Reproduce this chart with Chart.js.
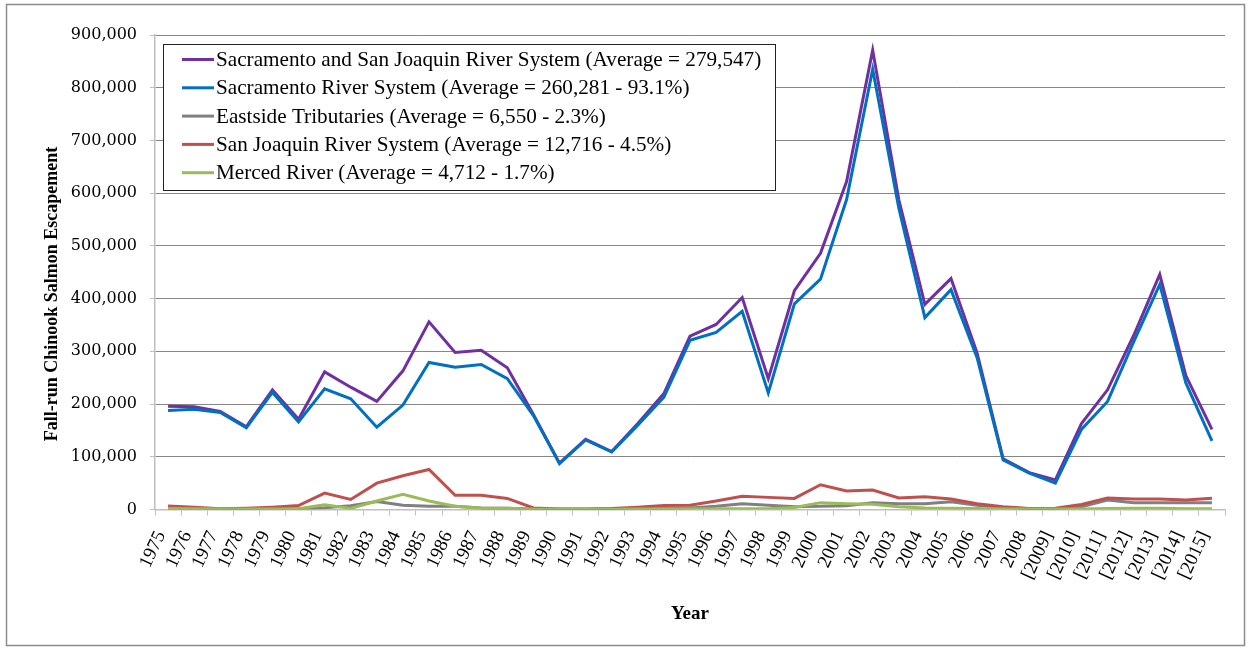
<!DOCTYPE html>
<html>
<head>
<meta charset="utf-8">
<title>Fall-run Chinook Salmon Escapement</title>
<script src="https://cdn.jsdelivr.net/npm/chart.js@4.4.1/dist/chart.umd.min.js"></script>
<style>
  html, body { margin: 0; padding: 0; background: #fff; }
</style>
</head>
<body>
<canvas id="salmon" width="1250" height="648"></canvas>
<script>
// years on the x axis (bracketed years as printed)
const years = ['1975','1976','1977','1978','1979','1980','1981','1982','1983','1984',
  '1985','1986','1987','1988','1989','1990','1991','1992','1993','1994',
  '1995','1996','1997','1998','1999','2000','2001','2002','2003','2004',
  '2005','2006','2007','2008','[2009]','[2010]','[2011]','[2012]','[2013]','[2014]','[2015]'];

// Sacramento and San Joaquin River System
const totalSystem = [196000,195000,186000,157000,227000,171000,261000,232000,205000,263000,
  356000,298000,302000,269000,180000,88000,133000,110000,163000,220000,
  329000,351000,402000,248000,415000,486000,622000,871000,588000,389000,
  438000,297000,96000,70000,56000,163000,227000,330000,446000,254000,152000];

// Sacramento River System
const sacramento = [188000,190000,184000,155000,222000,166000,229000,210000,156000,198000,
  279000,270000,275000,248000,178000,87000,132000,109000,160000,213000,
  321000,336000,376000,221000,390000,437000,588000,835000,572000,364000,
  417000,288000,94000,69000,50000,152000,205000,318000,427000,240000,130000];

// Eastside Tributaries
const eastside = [2000,1500,1000,1000,1500,1500,3500,7000,15000,8000,
  6000,6000,3000,2500,1000,500,500,800,1500,2000,
  3000,6000,11000,8000,5000,6000,7000,13000,11000,11000,
  14500,8000,4000,1300,1000,5000,18000,13000,13000,13000,13000];

// San Joaquin River System
const sanJoaquin = [6500,4500,1500,2500,4500,7500,31000,19000,50000,64000,
  76000,27000,27000,21000,3000,1000,1000,2000,4500,7500,
  8000,16000,25000,23000,21000,47000,35000,37000,22000,24000,
  20000,11000,5000,2000,2500,9500,22000,20000,20000,18000,21500];

// Merced River
const merced = [2000,1500,1000,1000,1000,1500,9000,2000,16000,29000,
  16000,6000,2500,2500,600,400,400,500,800,1000,
  1000,1200,1500,1200,4000,13000,11000,10000,5000,3000,
  2500,2000,1000,800,800,1000,2000,2500,2500,1300,1300];

const yTicks = [0,100000,200000,300000,400000,500000,600000,700000,800000,900000];
const yTitle = 'Fall-run Chinook Salmon Escapement';

Chart.defaults.font.family = "'Liberation Serif', 'Times New Roman', serif";
Chart.defaults.color = '#000';

// white page + grey frame round the whole chart, and the y title
const frame = {
  id: 'frame',
  beforeDraw(chart) {
    const c = chart.ctx;
    c.save();
    c.fillStyle = '#fff';
    c.fillRect(0, 0, chart.width, chart.height);
    c.strokeStyle = '#8c8c8c';
    c.lineWidth = 1.5;
    c.strokeRect(6.5, 4.5, 1238, 641);
    // y axis title, Excel puts it a bit below the middle of the plot
    c.translate(52, 294);
    c.rotate(-Math.PI / 2);
    c.font = "bold 18px 'Liberation Serif', serif";
    c.fillStyle = '#000';
    c.textAlign = 'center';
    c.textBaseline = 'middle';
    c.fillText(yTitle, 0, 0);
    c.restore();
  }
};

// Excel-style legend box sitting inside the plot
const boxLegend = {
  id: 'boxLegend',
  afterDraw(chart) {
    const c = chart.ctx;
    c.save();
    c.fillStyle = '#fff';
    c.fillRect(163, 44, 613, 146);
    c.strokeStyle = '#222';
    c.lineWidth = 1;
    c.strokeRect(163.5, 44.5, 612, 146);
    c.font = "21.2px 'Liberation Serif', serif";
    c.textBaseline = 'middle';
    chart.data.datasets.forEach((ds, i) => {
      const y = 59.5 + i * 28.3;
      c.strokeStyle = ds.borderColor;
      c.lineWidth = 3;
      c.beginPath();
      c.moveTo(182, y);
      c.lineTo(214, y);
      c.stroke();
      c.fillStyle = '#000';
      c.fillText(ds.label, 216, y + 1);
    });
    c.restore();
  }
};

new Chart(document.getElementById('salmon').getContext('2d'), {
  type: 'line',
  data: {
    labels: years,
    datasets: [
      { label: 'Sacramento and San Joaquin River System (Average = 279,547)', data: totalSystem, borderColor: '#7030A0', order: 5 },
      { label: 'Sacramento River System (Average = 260,281 - 93.1%)', data: sacramento, borderColor: '#0070C0', order: 4 },
      { label: 'Eastside Tributaries (Average = 6,550 - 2.3%)', data: eastside, borderColor: '#808080', order: 3 },
      { label: 'San Joaquin River System (Average = 12,716 - 4.5%)', data: sanJoaquin, borderColor: '#C0504D', order: 2 },
      { label: 'Merced River (Average = 4,712 - 1.7%)', data: merced, borderColor: '#9BBB59', order: 1 }
    ]
  },
  options: {
    responsive: false,
    animation: false,
    layout: { padding: { left: 0, right: 25, top: 35, bottom: 0 } },
    plugins: { legend: { display: false }, tooltip: { enabled: false } },
    elements: {
      point: { radius: 0 },
      line: { borderWidth: 3, tension: 0, fill: false }
    },
    scales: {
      x: {
        offset: true,
        grid: { offset: true, drawOnChartArea: false, tickLength: 6, color: '#bfbfbf' },
        border: { color: '#bfbfbf', width: 1.5 },
        ticks: { autoSkip: false, minRotation: 65, maxRotation: 65, padding: 12, labelOffset: -7, font: { size: 19 } },
        title: { display: true, text: 'Year', font: { size: 19, weight: 'bold' }, padding: { top: 0, bottom: 23 } },
        afterFit(scale) { scale.height = 138.5; }
      },
      y: {
        min: 0,
        max: 900000,
        afterBuildTicks(scale) { scale.ticks = yTicks.map(v => ({ value: v })); },
        ticks: { padding: 13, font: { family: "'DejaVu Serif', serif", size: 16 }, callback: v => v.toLocaleString('en-US') },
        grid: { color: '#868686', tickColor: '#bfbfbf', tickLength: 5 },
        border: { color: '#bfbfbf', width: 1.5 },
        afterFit(scale) { scale.width = 155; }
      }
    }
  },
  plugins: [frame, boxLegend]
});
</script>
</body>
</html>
